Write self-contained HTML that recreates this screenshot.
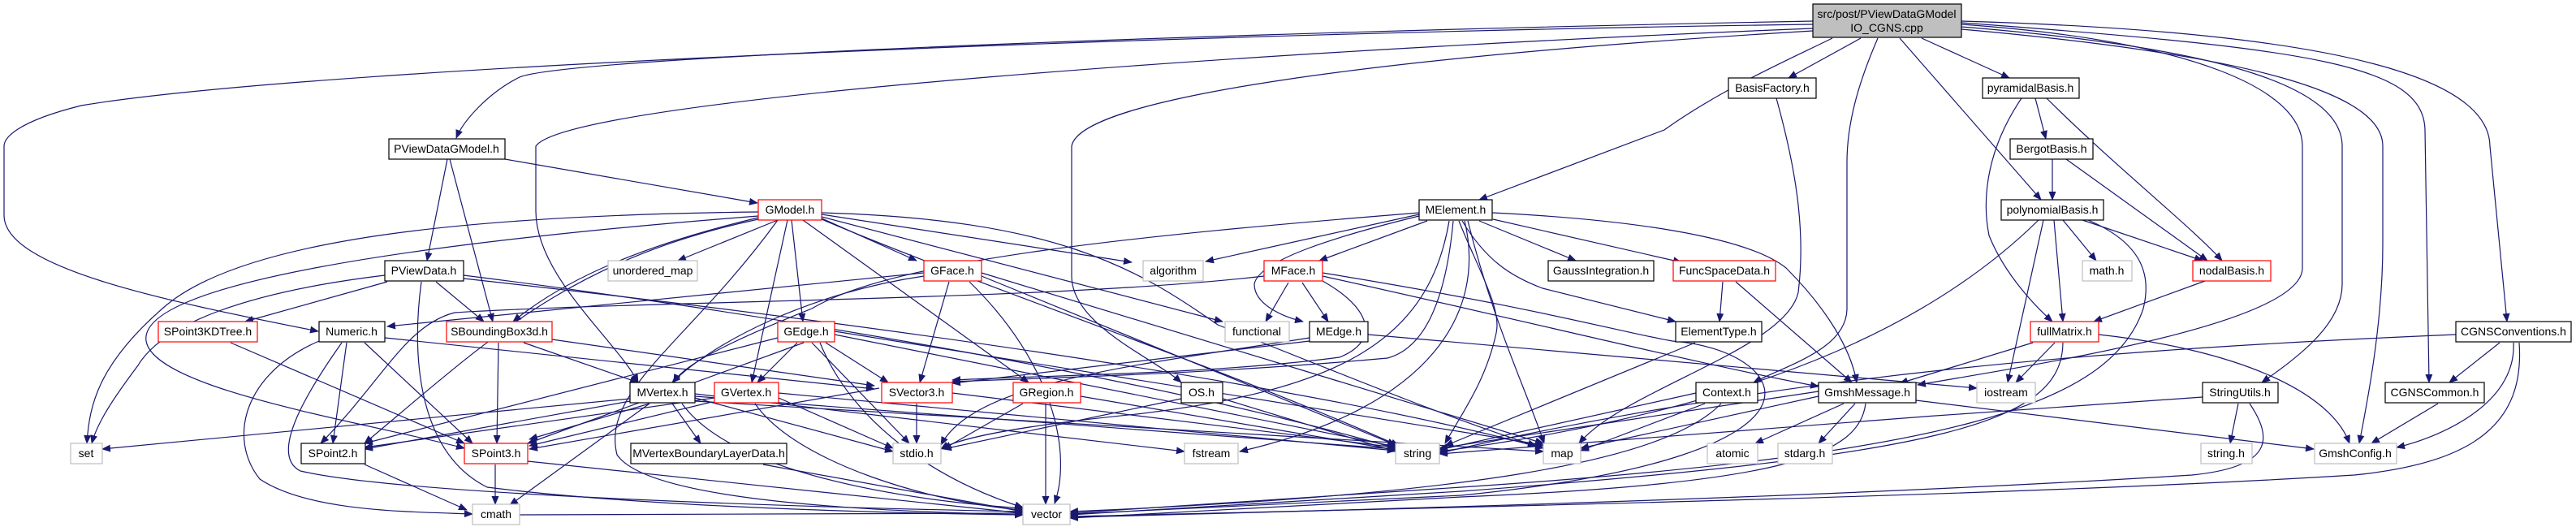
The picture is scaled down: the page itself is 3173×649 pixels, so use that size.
<!DOCTYPE html>
<html><head><meta charset="utf-8"><style>
html,body{margin:0;padding:0;background:#fff;}
svg{display:block;}
text{font-family:"Liberation Sans",Arial,sans-serif;font-size:14px;fill:#000;}
.e{fill:none;stroke:#191970;stroke-width:1.2;marker-end:url(#a);}
.n{fill:#fff;stroke:#000;stroke-width:1.2;}
.r{fill:#fff;stroke:#ff0000;stroke-width:1.2;}
.g{fill:#fff;stroke:#bfbfbf;stroke-width:1.2;}
</style></head><body>
<svg width="3173" height="649" viewBox="0 0 3173 649" xmlns="http://www.w3.org/2000/svg">
<defs><marker id="a" markerUnits="userSpaceOnUse" markerWidth="11" markerHeight="9" refX="10" refY="4.5" orient="auto"><path d="M0,0 L11,4.5 L0,9 z" fill="#191970"/></marker></defs>
<g>
<!-- top node edges -->
<path class="e" d="M2233,26 C1500,40 700,70 640,95 C600,115 570,150 562,170"/>
<path class="e" d="M2233,30 C1500,40 400,80 100,130 C20,150 5,170 5,180 L5,265 C5,330 200,370 392,408"/>
<path class="e" d="M2233,35 C1600,60 700,120 660,180 L660,260 C660,340 760,420 786,471"/>
<path class="e" d="M2233,38 C1700,70 1330,120 1320,180 L1320,340 C1320,400 1420,440 1455,471"/>
<path class="e" d="M2257,47 C2200,75 2120,110 2050,160 L1822,246"/>
<path class="e" d="M2292,47 L2203,96"/>
<path class="e" d="M2313,47 C2290,100 2275,150 2275,200 L2275,380 C2275,430 2200,450 2160,471"/>
<path class="e" d="M2340,47 L2514,246"/>
<path class="e" d="M2367,47 L2475,96"/>
<path class="e" d="M2416,30 C2700,50 2836,110 2836,180 L2836,330 C2836,400 2500,450 2362,474"/>
<path class="e" d="M2416,33 C2750,60 2885,110 2885,180 L2885,350 C2885,400 2830,440 2786,471"/>
<path class="e" d="M2416,36 C2800,70 2935,120 2935,180 L2935,300 C2935,400 2915,500 2906,546"/>
<path class="e" d="M2416,28 C2850,60 2985,80 2987,160 L2992,471"/>
<path class="e" d="M2416,26 C2900,40 3066,100 3067,180 L3088,396"/>
<!-- BasisFactory -->
<path class="e" d="M2188,121 C2210,200 2225,280 2215,360 C2200,430 2000,480 1945,546"/>
<!-- pyramidal / Bergot / polynomial -->
<path class="e" d="M2507,121 L2520,171"/>
<path class="e" d="M2521,121 C2600,200 2700,280 2737,321"/>
<path class="e" d="M2490,121 C2450,180 2440,240 2450,290 C2470,340 2510,380 2528,396"/>
<path class="e" d="M2528,196 L2528,246"/>
<path class="e" d="M2545,196 L2719,321"/>
<path class="e" d="M2541,271 L2582,321"/>
<path class="e" d="M2565,271 L2713,321"/>
<path class="e" d="M2530,271 L2541,396"/>
<path class="e" d="M2517,271 L2473,471"/>
<path class="e" d="M2511,271 C2400,380 2200,500 1773,556"/>
<path class="e" d="M2572,271 C2640,300 2650,340 2640,380 C2600,500 2400,560 1800,600 L1318,632"/>
<path class="e" d="M2716,346 L2579,396"/>
<path class="e" d="M2504,422 L2340,472"/>
<path class="e" d="M2531,422 L2483,471"/>
<path class="e" d="M2585,412 C2750,430 2870,480 2894,546"/>
<path class="e" d="M2541,422 C2540,520 2400,560 1800,605 L1318,634"/>
<!-- CGNS -->
<path class="e" d="M3079,422 L3017,471"/>
<path class="e" d="M3096,422 C3100,500 3000,540 2952,551"/>
<path class="e" d="M3103,422 C3110,520 3050,570 2900,585 C2500,610 1800,625 1318,636"/>
<path class="e" d="M3025,412 C2600,430 2200,460 1773,558"/>
<path class="e" d="M3003,497 L2921,546"/>
<path class="e" d="M2757,497 L2747,546"/>
<path class="e" d="M2771,497 C2800,540 2800,575 2700,585 C2300,610 1800,625 1318,637"/>
<path class="e" d="M2713,489 C2400,510 2000,540 1773,559"/>
<path class="e" d="M2360,493 L2850,553"/>
<path class="e" d="M2285,497 L2240,546"/>
<path class="e" d="M2271,497 L2162,546"/>
<path class="e" d="M2298,497 C2290,560 2200,595 1800,612 L1318,638"/>
<path class="e" d="M2240,482 L1773,552"/>
<path class="e" d="M2240,488 L1947,552"/>
<path class="e" d="M2089,484 L1773,554"/>
<path class="e" d="M2100,497 L1947,555"/>
<path class="e" d="M2120,497 C2050,570 1800,610 1318,630"/>
<path class="e" d="M2088,422 L1780,549"/>
<path class="e" d="M2122,347 L2118,396"/>
<path class="e" d="M2138,347 L2281,471"/>
<!-- MElement -->
<path class="e" d="M1748,264 L1485,322"/>
<path class="e" d="M1748,262 C1400,290 1100,320 1000,380 C900,420 840,450 830,471"/>
<path class="e" d="M1748,266 C1650,290 1550,320 1545,350 C1545,375 1580,390 1605,396"/>
<path class="e" d="M1758,272 L1625,321"/>
<path class="e" d="M1822,272 L1941,321"/>
<path class="e" d="M1839,270 L2071,323"/>
<path class="e" d="M1801,272 C1830,320 1860,340 1900,355 L2064,396"/>
<path class="e" d="M1797,272 C1820,330 1850,380 1843,410 C1830,470 1800,510 1780,546"/>
<path class="e" d="M1808,272 C1840,400 1880,480 1902,546"/>
<path class="e" d="M1790,272 C1780,380 1750,430 1709,441 C1500,460 1300,465 1173,470"/>
<path class="e" d="M1804,272 C1830,380 1770,500 1527,556"/>
<path class="e" d="M1838,262 C2000,270 2150,290 2200,330 C2250,380 2280,430 2287,471"/>
<path class="e" d="M1785,272 C1760,420 1650,480 1400,510 C1250,525 1180,540 1159,553"/>
<!-- MFace / MEdge -->
<path class="e" d="M1587,348 L1559,396"/>
<path class="e" d="M1604,348 L1636,396"/>
<path class="e" d="M1629,346 C1690,380 1700,420 1650,440 C1500,460 1300,462 1173,468"/>
<path class="e" d="M1629,340 C1900,400 2100,450 2240,476"/>
<path class="e" d="M1629,336 C1900,380 2000,410 2060,420 C2200,430 2300,560 1800,610 L1318,633"/>
<path class="e" d="M1557,340 C1300,370 800,370 560,385 C500,400 470,470 395,546"/>
<path class="e" d="M1613,420 L1173,472"/>
<path class="e" d="M1685,412 L2435,478"/>
<path class="e" d="M1613,416 C1400,450 1200,470 1159,548"/>
<!-- GModel -->
<path class="e" d="M958,271 L835,321"/>
<path class="e" d="M934,261 C600,265 300,290 200,380 C120,450 110,500 107,546"/>
<path class="e" d="M934,266 C500,300 170,350 180,420 C190,480 450,520 572,552"/>
<path class="e" d="M934,268 C800,300 700,340 632,396"/>
<path class="e" d="M958,271 C850,420 740,480 760,560 C800,620 1100,630 1260,634"/>
<path class="e" d="M970,271 L926,471"/>
<path class="e" d="M975,271 L989,396"/>
<path class="e" d="M1010,268 L1129,321"/>
<path class="e" d="M989,271 L1267,471"/>
<path class="e" d="M1012,264 L1394,323"/>
<path class="e" d="M1012,267 L1506,396"/>
<path class="e" d="M1012,270 C1200,350 1500,450 1723,549"/>
<path class="e" d="M1012,262 C1300,270 1400,330 1500,400 C1700,480 1800,520 1892,549"/>
<path class="e" d="M934,270 C700,320 600,420 449,546"/>
<!-- PViewDataGModel / PViewData -->
<path class="e" d="M622,196 L933,250"/>
<path class="e" d="M551,196 L526,321"/>
<path class="e" d="M554,196 L607,396"/>
<path class="e" d="M477,347 L302,396"/>
<path class="e" d="M537,347 L596,396"/>
<path class="e" d="M474,339 C300,360 200,400 170,450 C140,490 120,520 113,546"/>
<path class="e" d="M519,347 C505,450 520,560 600,600 C800,625 1100,632 1260,634"/>
<path class="e" d="M571,339 C900,380 1400,460 1719,552"/>
<path class="e" d="M571,343 C1000,390 1600,470 1901,552"/>
<path class="e" d="M284,422 L572,546"/>
<!-- Numeric / SBoundingBox -->
<path class="e" d="M427,422 L410,546"/>
<path class="e" d="M449,422 L582,546"/>
<path class="e" d="M393,420 C300,460 280,540 320,590 C380,630 500,630 582,633"/>
<path class="e" d="M421,422 C380,480 330,560 370,580 C500,610 1000,625 1260,630"/>
<path class="e" d="M474,416 L1077,479"/>
<path class="e" d="M614,422 L612,546"/>
<path class="e" d="M645,422 L786,471"/>
<path class="e" d="M680,418 L1077,475"/>
<!-- GEdge / GFace / GVertex -->
<path class="e" d="M982,422 L933,471"/>
<path class="e" d="M958,416 L449,546"/>
<path class="e" d="M1017,422 L1094,471"/>
<path class="e" d="M990,422 L650,546"/>
<path class="e" d="M1000,422 L1120,546"/>
<path class="e" d="M1010,422 C1050,520 1150,590 1260,625"/>
<path class="e" d="M1028,412 L1719,550"/>
<path class="e" d="M1028,408 L1901,548"/>
<path class="e" d="M1169,347 L1133,471"/>
<path class="e" d="M1194,347 C1300,450 1320,560 1299,620"/>
<path class="e" d="M1209,340 L1719,548"/>
<path class="e" d="M1209,336 L1901,546"/>
<path class="e" d="M1138,340 C1000,360 880,420 828,471"/>
<path class="e" d="M1138,336 L477,402"/>
<path class="e" d="M877,495 L652,549"/>
<path class="e" d="M880,490 L449,551"/>
<path class="e" d="M959,490 L1100,552"/>
<path class="e" d="M930,497 C980,570 1150,620 1260,628"/>
<path class="e" d="M959,484 L1719,555"/>
<!-- MVertex -->
<path class="e" d="M776,491 L126,553"/>
<path class="e" d="M776,494 L449,553"/>
<path class="e" d="M800,497 L652,541"/>
<path class="e" d="M828,497 L863,546"/>
<path class="e" d="M800,497 L628,622"/>
<path class="e" d="M856,490 L1100,556"/>
<path class="e" d="M856,485 L1459,556"/>
<path class="e" d="M856,488 L1719,553"/>
<path class="e" d="M856,494 L1901,556"/>
<path class="e" d="M840,497 C900,580 1100,615 1260,626"/>
<!-- SVector3 / GRegion / OS -->
<path class="e" d="M1083,478 L652,553"/>
<path class="e" d="M1129,497 L1129,546"/>
<path class="e" d="M1173,484 L1719,551"/>
<path class="e" d="M1260,497 L1162,553"/>
<path class="e" d="M1288,497 L1288,621"/>
<path class="e" d="M1331,488 L1719,554"/>
<path class="e" d="M1455,491 L1162,553"/>
<path class="e" d="M1506,491 L1719,556"/>
<!-- bottom -->
<path class="e" d="M449,572 L575,628"/>
<path class="e" d="M610,572 L610,621"/>
<path class="e" d="M650,568 L1260,632"/>
<path class="e" d="M940,572 L1260,630"/>
<path class="e" d="M640,634 L1260,632" style="marker-end:none;marker-start:url(#a)"/>
</g>
<g>
<rect x="2233" y="5" width="183" height="41" fill="#bfbfbf" stroke="#000" stroke-width="1.2"/>
<text x="2324" y="22" text-anchor="middle">src/post/PViewDataGModel</text>
<text x="2324" y="39" text-anchor="middle">IO_CGNS.cpp</text>

<rect class="n" x="2129" y="96" width="108" height="25"/><text x="2183" y="113" text-anchor="middle">BasisFactory.h</text>
<rect class="n" x="2442" y="96" width="119" height="25"/><text x="2501" y="113" text-anchor="middle">pyramidalBasis.h</text>

<rect class="n" x="479" y="171" width="143" height="25"/><text x="550" y="188" text-anchor="middle">PViewDataGModel.h</text>
<rect class="n" x="2476" y="171" width="102" height="25"/><text x="2527" y="188" text-anchor="middle">BergotBasis.h</text>

<rect class="r" x="934" y="246" width="78" height="25"/><text x="973" y="263" text-anchor="middle">GModel.h</text>
<rect class="n" x="1748" y="246" width="90" height="25"/><text x="1793" y="263" text-anchor="middle">MElement.h</text>
<rect class="n" x="2465" y="246" width="126" height="25"/><text x="2528" y="263" text-anchor="middle">polynomialBasis.h</text>

<rect class="n" x="474" y="321" width="97" height="25"/><text x="522" y="338" text-anchor="middle">PViewData.h</text>
<rect class="g" x="749" y="321" width="110" height="25"/><text x="804" y="338" text-anchor="middle">unordered_map</text>
<rect class="r" x="1138" y="321" width="71" height="25"/><text x="1173" y="338" text-anchor="middle">GFace.h</text>
<rect class="g" x="1408" y="321" width="74" height="25"/><text x="1445" y="338" text-anchor="middle">algorithm</text>
<rect class="r" x="1557" y="321" width="72" height="25"/><text x="1593" y="338" text-anchor="middle">MFace.h</text>
<rect class="n" x="1907" y="321" width="130" height="25"/><text x="1972" y="338" text-anchor="middle">GaussIntegration.h</text>
<rect class="r" x="2061" y="321" width="126" height="25"/><text x="2124" y="338" text-anchor="middle">FuncSpaceData.h</text>
<rect class="g" x="2565" y="321" width="61" height="25"/><text x="2595" y="338" text-anchor="middle">math.h</text>
<rect class="r" x="2701" y="321" width="96" height="25"/><text x="2749" y="338" text-anchor="middle">nodalBasis.h</text>

<rect class="r" x="195" y="396" width="122" height="25"/><text x="256" y="413" text-anchor="middle">SPoint3KDTree.h</text>
<rect class="n" x="393" y="396" width="81" height="25"/><text x="433" y="413" text-anchor="middle">Numeric.h</text>
<rect class="r" x="550" y="396" width="130" height="25"/><text x="615" y="413" text-anchor="middle">SBoundingBox3d.h</text>
<rect class="r" x="958" y="396" width="70" height="25"/><text x="993" y="413" text-anchor="middle">GEdge.h</text>
<rect class="g" x="1509" y="396" width="79" height="25"/><text x="1548" y="413" text-anchor="middle">functional</text>
<rect class="n" x="1613" y="396" width="72" height="25"/><text x="1649" y="413" text-anchor="middle">MEdge.h</text>
<rect class="n" x="2064" y="396" width="106" height="25"/><text x="2117" y="413" text-anchor="middle">ElementType.h</text>
<rect class="r" x="2501" y="396" width="84" height="25"/><text x="2543" y="413" text-anchor="middle">fullMatrix.h</text>
<rect class="n" x="3025" y="396" width="142" height="25"/><text x="3096" y="413" text-anchor="middle">CGNSConventions.h</text>

<rect class="n" x="776" y="471" width="80" height="25"/><text x="816" y="488" text-anchor="middle">MVertex.h</text>
<rect class="r" x="880" y="471" width="79" height="25"/><text x="919" y="488" text-anchor="middle">GVertex.h</text>
<rect class="r" x="1086" y="471" width="87" height="25"/><text x="1129" y="488" text-anchor="middle">SVector3.h</text>
<rect class="r" x="1248" y="471" width="83" height="25"/><text x="1289" y="488" text-anchor="middle">GRegion.h</text>
<rect class="n" x="1455" y="471" width="51" height="25"/><text x="1480" y="488" text-anchor="middle">OS.h</text>
<rect class="n" x="2089" y="471" width="76" height="25"/><text x="2127" y="488" text-anchor="middle">Context.h</text>
<rect class="n" x="2240" y="471" width="120" height="25"/><text x="2300" y="488" text-anchor="middle">GmshMessage.h</text>
<rect class="g" x="2435" y="471" width="72" height="25"/><text x="2471" y="488" text-anchor="middle">iostream</text>
<rect class="n" x="2713" y="471" width="93" height="25"/><text x="2759" y="488" text-anchor="middle">StringUtils.h</text>
<rect class="n" x="2938" y="471" width="122" height="25"/><text x="2999" y="488" text-anchor="middle">CGNSCommon.h</text>

<rect class="g" x="87" y="546" width="39" height="25"/><text x="106" y="563" text-anchor="middle">set</text>
<rect class="n" x="371" y="546" width="79" height="25"/><text x="410" y="563" text-anchor="middle">SPoint2.h</text>
<rect class="r" x="572" y="546" width="78" height="25"/><text x="611" y="563" text-anchor="middle">SPoint3.h</text>
<rect class="n" x="777" y="546" width="192" height="25"/><text x="873" y="563" text-anchor="middle">MVertexBoundaryLayerData.h</text>
<rect class="g" x="1100" y="546" width="59" height="25"/><text x="1129" y="563" text-anchor="middle">stdio.h</text>
<rect class="g" x="1459" y="546" width="66" height="25"/><text x="1492" y="563" text-anchor="middle">fstream</text>
<rect class="g" x="1719" y="546" width="54" height="25"/><text x="1746" y="563" text-anchor="middle">string</text>
<rect class="g" x="1901" y="546" width="46" height="25"/><text x="1924" y="563" text-anchor="middle">map</text>
<rect class="g" x="2103" y="546" width="62" height="25"/><text x="2134" y="563" text-anchor="middle">atomic</text>
<rect class="g" x="2190" y="546" width="67" height="25"/><text x="2223" y="563" text-anchor="middle">stdarg.h</text>
<rect class="g" x="2711" y="546" width="63" height="25"/><text x="2742" y="563" text-anchor="middle">string.h</text>
<rect class="g" x="2851" y="546" width="101" height="25"/><text x="2901" y="563" text-anchor="middle">GmshConfig.h</text>

<rect class="g" x="582" y="621" width="58" height="25"/><text x="611" y="638" text-anchor="middle">cmath</text>
<rect class="g" x="1260" y="621" width="58" height="25"/><text x="1289" y="638" text-anchor="middle">vector</text>
</g>
</svg>
</body></html>
